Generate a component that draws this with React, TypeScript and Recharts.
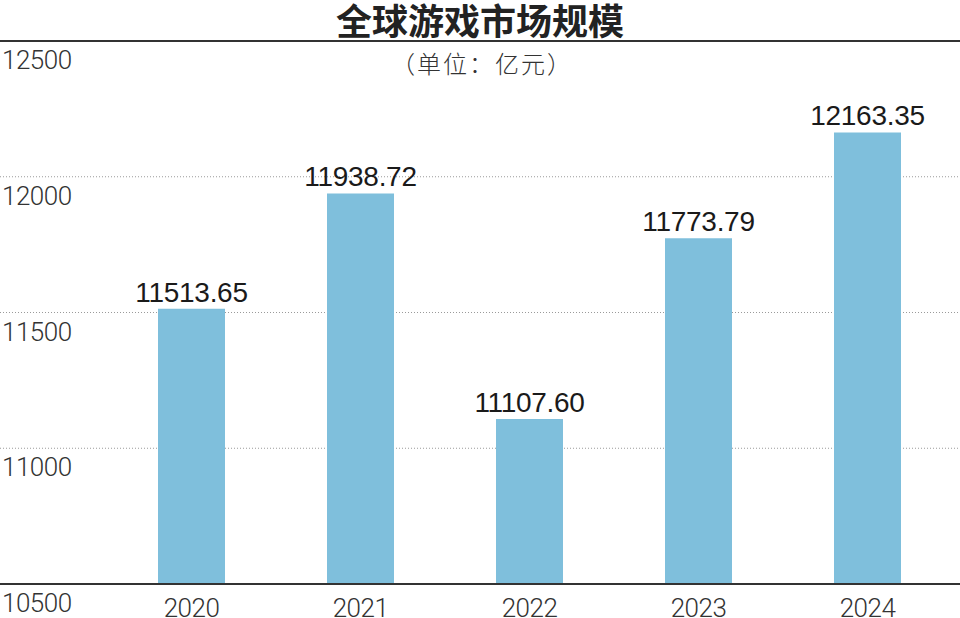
import React from 'react';
import {
  BarChart,
  Bar,
  XAxis,
  YAxis,
  CartesianGrid,
  ReferenceLine,
  LabelList,
} from 'recharts';

const years = ['2020', '2021', '2022', '2023', '2024'];
const marketSize = [11513.65, 11938.72, 11107.6, 11773.79, 12163.35];
const yTicks = [10500, 11000, 11500, 12000, 12500];

const chartData = years.map((year, i) => ({ year, value: marketSize[i] }));

const YTick = (props: any) => {
  const { y, payload } = props;
  return (
    <text
      x={2}
      y={y + 28}
      textAnchor="start"
      fill="#333"
      fontSize={26}
      fontWeight={300}
      letterSpacing={-0.5}
      fontFamily="Roboto, 'Liberation Sans', sans-serif"
    >
      {payload.value}
    </text>
  );
};

const XTick = (props: any) => {
  const { x, y, payload } = props;
  return (
    <text
      x={x}
      y={y + 33}
      textAnchor="middle"
      fill="#333"
      fontSize={26}
      fontWeight={300}
      letterSpacing={-0.5}
      fontFamily="Roboto, 'Liberation Sans', sans-serif"
    >
      {payload.value}
    </text>
  );
};

export default function App() {
  return (
    <div style={{ position: 'absolute', left: 0, top: 0, width: 960, height: 618, background: '#fff' }}>
      {/* title */}
      <div
        style={{
          position: 'absolute',
          top: 1,
          left: 0,
          width: 960,
          textAlign: 'center',
          fontFamily: "'Noto Sans CJK SC', sans-serif",
          fontWeight: 700,
          fontSize: 36,
          lineHeight: '36px',
          color: '#222',
        }}
      >
        全球游戏市场规模
      </div>
      <div
        style={{
          position: 'absolute',
          top: 51,
          left: 2,
          width: 960,
          textAlign: 'center',
          fontFamily: "'Noto Sans CJK SC', sans-serif",
          fontWeight: 300,
          fontSize: 24,
          letterSpacing: 2,
          lineHeight: '24px',
          color: '#333',
        }}
      >
        （单位：亿元）
      </div>

      <BarChart
        width={960}
        height={618}
        data={chartData}
        margin={{ top: 41, right: 0, bottom: 0, left: 0 }}
        style={{ position: 'absolute', left: 0, top: 0 }}
      >
        <CartesianGrid
          vertical={false}
          stroke="#9a9a9a"
          strokeDasharray="1 2"
        />
        <XAxis
          dataKey="year"
          height={34}
          padding={{ left: 107, right: 8 }}
          axisLine={false}
          tickLine={false}
          tickSize={0}
          tickMargin={0}
          interval={0}
          tick={<XTick />}
        />
        <YAxis
          mirror
          width={80}
          domain={[10500, 12500]}
          ticks={yTicks}
          allowDataOverflow
          axisLine={false}
          tickLine={false}
          interval={0}
          tick={<YTick />}
        />
        <Bar dataKey="value" fill="#7fbfdc" barSize={67} isAnimationActive={false}>
          <LabelList
            dataKey="value"
            position="top"
            offset={7}
            formatter={(v: number) => v.toFixed(2)}
            fill="#1a1a1a"
            fontSize={28}
            letterSpacing={-0.3}
            fontFamily="'Liberation Sans', Arial, sans-serif"
          />
        </Bar>
        <ReferenceLine y={12500} stroke="#333" strokeWidth={2} />
        <ReferenceLine y={10500} stroke="#333" strokeWidth={2} />
      </BarChart>
    </div>
  );
}
